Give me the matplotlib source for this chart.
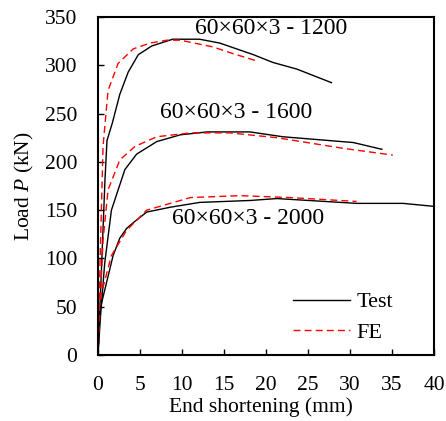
import matplotlib
matplotlib.use('Agg')
import matplotlib.pyplot as plt

plt.rcParams['font.family'] = 'Liberation Serif'
plt.rcParams['mathtext.fontset'] = 'custom'
plt.rcParams['mathtext.rm'] = 'Liberation Serif'
plt.rcParams['mathtext.it'] = 'Liberation Serif:italic'

# 60x60x3 - 1200
x_t1200 = [0, 0.44, 0.83, 1.07, 1.7, 2.6, 3.6, 4.8, 6.4, 8.9, 12.1, 14.5, 18.5, 20.8, 23.7, 27.8]
y_t1200 = [0, 95, 181, 222, 240, 270, 293, 311, 320, 327, 327, 323, 311, 303, 296, 282]
x_f1200 = [0, 0.24, 0.6, 1.2, 2.4, 4.2, 6.2, 8.2, 9.8, 13.7, 16.1, 19.1]
y_f1200 = [0, 95, 216, 274, 302, 317, 323, 326, 326, 319, 312, 304]

# 60x60x3 - 1600
x_t1600 = [0, 0.3, 0.8, 1.6, 3.2, 4.6, 7.0, 9.8, 13.0, 18.1, 22.0, 30.4, 33.8]
y_t1600 = [0, 40, 95, 150, 192, 208, 221, 228, 231, 231, 226, 220, 213]
x_f1600 = [0, 0.25, 0.6, 1.2, 2.6, 4.4, 7.0, 11.0, 15.7, 21.3, 29.2, 35.1]
y_f1600 = [0, 50, 119, 171, 202, 216, 226, 230, 230, 225, 214, 207]

# 60x60x3 - 2000
x_t2000 = [0, 0.24, 1.8, 2.6, 3.4, 4.2, 5.8, 8.6, 12.1, 18.1, 21.3, 30.8, 36.3, 39.9]
y_t2000 = [0, 47, 103, 121, 131, 137, 148, 153, 158, 160, 162, 157, 157, 154]
x_f2000 = [0, 0.2, 1.6, 3.4, 5.8, 11.0, 16.9, 22.9, 30.8]
y_f2000 = [0, 57, 103, 129, 150, 163, 165, 163, 159]

labels = ['60×60×3 - 1200', '60×60×3 - 1600', '60×60×3 - 2000']
label_pos = [(20.6, 338), (16.5, 251), (17.9, 141)]

fig = plt.figure(figsize=(4.46, 4.21), dpi=100)
ax = fig.add_axes([0.2197, 0.1568, 0.7533, 0.8028])

ax.plot(x_t1200, y_t1200, color='black', lw=1, label='Test')
ax.plot(x_f1200, y_f1200, color='red', lw=1, ls=(0, (5, 3)), label='FE')
ax.plot(x_t1600, y_t1600, color='black', lw=1)
ax.plot(x_f1600, y_f1600, color='red', lw=1, ls=(0, (5, 3)))
ax.plot(x_t2000, y_t2000, color='black', lw=1)
ax.plot(x_f2000, y_f2000, color='red', lw=1, ls=(0, (5, 3)))

for txt, (tx, ty) in zip(labels, label_pos):
    ax.text(tx, ty, txt, fontsize=17, ha='center', va='center')

ax.set_xlim(0, 40)
ax.set_ylim(0, 350)
ax.set_xticks(range(0, 41, 5))
ax.set_yticks(range(0, 351, 50))
ax.tick_params(direction='in', length=4.5, width=1, labelsize=15.5)
ax.tick_params(axis='y', pad=15)
ax.tick_params(axis='x', pad=15)
for s in ax.spines.values():
    s.set_linewidth(1.5)

ax.set_xlabel('End shortening (mm)', fontsize=15.5)
ax.xaxis.set_label_coords(0.485, -0.125)
ax.set_ylabel('Load $P$ (kN)', fontsize=15.5)
ax.yaxis.set_label_coords(-0.185, 0.5)

ax.legend(loc='upper left', frameon=False, fontsize=16, handlelength=2.57,
          handletextpad=0.3, bbox_to_anchor=(0.58, 0.187), borderaxespad=0,
          borderpad=0, labelspacing=0.45)

fig.savefig('out.png', dpi=100)
